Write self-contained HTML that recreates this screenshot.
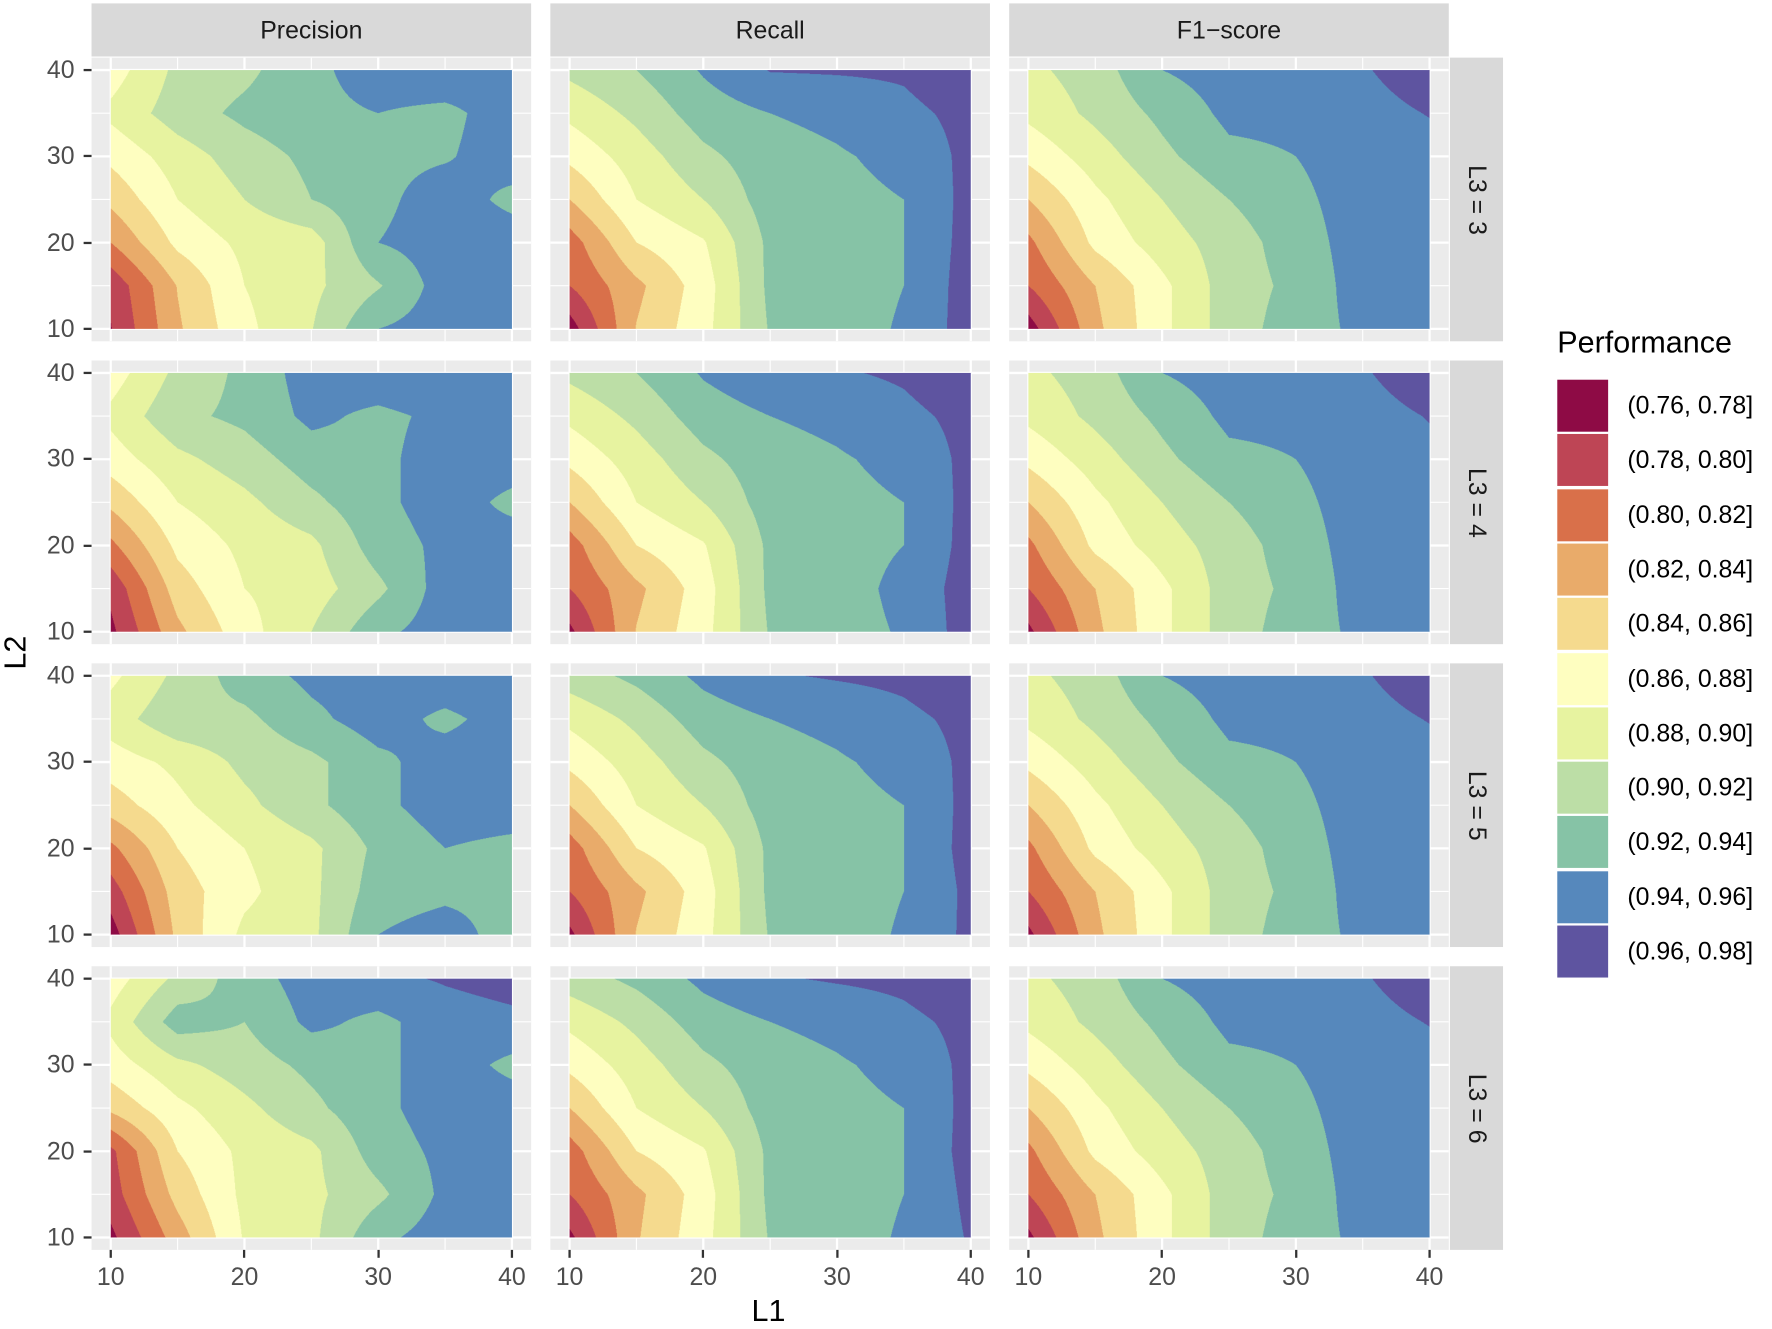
<!DOCTYPE html>
<html><head><meta charset="utf-8">
<style>
html,body{margin:0;padding:0;background:#fff;}
#wrap{position:relative;width:1568px;height:1176px;transform:scale(1.13010,1.13010);transform-origin:0 0;font-family:"Liberation Sans",sans-serif;}
.abs{position:absolute;}
.strip{position:absolute;background:#D9D9D9;color:#1A1A1A;font-size:22px;display:flex;align-items:center;justify-content:center;}
.panel{position:absolute;background:#EBEBEB;}
.tick{position:absolute;color:#4D4D4D;font-size:22px;}
canvas{position:absolute;}
</style></head>
<body>
<div id="wrap"></div>
<script>
const L1vals=[10,15,20,25,30,35,40];
const L2vals=[10,15,20,25,30,35,40];
const binColors=["#8E0B45","#BE4555","#D9704A","#E9AB6A","#F5DA8E","#FEFEC0","#E7F3A0","#BCDEA6","#86C3A6","#5688BC","#5E54A0"];
const binLabels=["(0.76, 0.78]","(0.78, 0.80]","(0.80, 0.82]","(0.82, 0.84]","(0.84, 0.86]","(0.86, 0.88]","(0.88, 0.90]","(0.90, 0.92]","(0.92, 0.94]","(0.94, 0.96]","(0.96, 0.98]"];
const metrics=["Precision","Recall","F1\u2212score"];
const l3Labels=["L3 = 3","L3 = 4","L3 = 5","L3 = 6"];
const xTicks=[10,20,30,40];
const yTicks=[10,20,30,40];
// rows: L2=10..40, cols: L1=10..40
const prec3=[[0.779,0.837,0.875,0.899,0.94,0.95,0.95],[0.785,0.841,0.88,0.895,0.918,0.95,0.95],[0.82,0.865,0.885,0.89,0.94,0.95,0.95],[0.845,0.88,0.90,0.92,0.935,0.95,0.935],[0.865,0.89,0.91,0.925,0.935,0.938,0.95],[0.885,0.91,0.925,0.935,0.94,0.935,0.95],[0.87,0.905,0.915,0.935,0.95,0.955,0.95]];
const prec4=[[0.775,0.835,0.872,0.90,0.935,0.95,0.95],[0.785,0.85,0.88,0.89,0.915,0.95,0.95],[0.815,0.865,0.885,0.895,0.93,0.945,0.95],[0.845,0.88,0.895,0.915,0.935,0.95,0.935],[0.87,0.895,0.91,0.93,0.935,0.95,0.95],[0.885,0.915,0.925,0.945,0.935,0.945,0.95],[0.87,0.905,0.925,0.95,0.955,0.96,0.95]];
const prec5=[[0.77,0.845,0.885,0.895,0.94,0.95,0.93],[0.79,0.85,0.875,0.895,0.93,0.935,0.935],[0.815,0.86,0.88,0.895,0.925,0.94,0.935],[0.85,0.875,0.895,0.915,0.935,0.95,0.95],[0.87,0.885,0.905,0.915,0.935,0.95,0.95],[0.89,0.915,0.915,0.935,0.95,0.935,0.95],[0.875,0.905,0.93,0.945,0.95,0.955,0.96]];
const prec6=[[0.775,0.83,0.882,0.895,0.935,0.95,0.95],[0.79,0.847,0.885,0.895,0.915,0.945,0.95],[0.795,0.86,0.885,0.895,0.93,0.945,0.95],[0.845,0.875,0.895,0.915,0.935,0.95,0.95],[0.87,0.895,0.91,0.925,0.935,0.95,0.935],[0.885,0.93,0.92,0.945,0.935,0.95,0.955],[0.87,0.905,0.93,0.95,0.955,0.962,0.968]];
const rec3=[[0.77,0.841,0.873,0.922,0.932,0.942,0.97],[0.80,0.835,0.87,0.925,0.932,0.94,0.97],[0.81,0.86,0.878,0.925,0.933,0.94,0.968],[0.84,0.88,0.90,0.93,0.935,0.94,0.967],[0.865,0.89,0.915,0.932,0.938,0.945,0.966],[0.885,0.905,0.93,0.94,0.945,0.955,0.966],[0.905,0.92,0.942,0.961,0.962,0.963,0.975]];
const rec4=[[0.775,0.841,0.873,0.922,0.932,0.942,0.97],[0.80,0.835,0.87,0.925,0.932,0.945,0.97],[0.81,0.86,0.878,0.925,0.933,0.94,0.968],[0.84,0.88,0.90,0.93,0.935,0.94,0.967],[0.865,0.89,0.915,0.932,0.938,0.945,0.966],[0.885,0.905,0.93,0.94,0.945,0.955,0.966],[0.905,0.92,0.942,0.955,0.958,0.963,0.975]];
const rec5=[[0.775,0.841,0.873,0.922,0.932,0.942,0.965],[0.80,0.835,0.87,0.925,0.932,0.94,0.965],[0.81,0.86,0.878,0.925,0.933,0.94,0.968],[0.84,0.88,0.90,0.93,0.935,0.94,0.967],[0.865,0.89,0.915,0.932,0.938,0.945,0.966],[0.885,0.905,0.93,0.94,0.945,0.955,0.966],[0.91,0.925,0.945,0.958,0.962,0.965,0.975]];
const rec6=[[0.775,0.838,0.873,0.922,0.932,0.942,0.962],[0.80,0.835,0.87,0.925,0.932,0.94,0.965],[0.81,0.86,0.878,0.925,0.933,0.94,0.968],[0.84,0.88,0.90,0.93,0.935,0.94,0.967],[0.865,0.89,0.915,0.932,0.938,0.945,0.966],[0.885,0.905,0.93,0.94,0.945,0.955,0.966],[0.91,0.925,0.945,0.958,0.962,0.965,0.975]];
const f13=[[0.77,0.835,0.875,0.91,0.93,0.945,0.95],[0.80,0.84,0.875,0.91,0.925,0.95,0.95],[0.815,0.865,0.89,0.91,0.93,0.95,0.95],[0.84,0.875,0.90,0.92,0.935,0.95,0.95],[0.865,0.89,0.915,0.935,0.94,0.95,0.952],[0.885,0.905,0.925,0.945,0.945,0.952,0.961],[0.895,0.91,0.94,0.95,0.952,0.958,0.972]];
const f14=[[0.775,0.835,0.875,0.91,0.93,0.945,0.95],[0.80,0.84,0.875,0.91,0.925,0.95,0.95],[0.815,0.865,0.89,0.91,0.93,0.95,0.95],[0.84,0.875,0.90,0.92,0.935,0.95,0.95],[0.865,0.89,0.915,0.935,0.94,0.95,0.955],[0.885,0.905,0.925,0.945,0.945,0.952,0.961],[0.895,0.91,0.94,0.95,0.952,0.958,0.972]];
const f15=[[0.775,0.835,0.875,0.91,0.93,0.945,0.95],[0.80,0.84,0.875,0.91,0.925,0.95,0.95],[0.815,0.865,0.89,0.91,0.93,0.95,0.95],[0.84,0.875,0.90,0.92,0.935,0.95,0.95],[0.865,0.89,0.915,0.935,0.94,0.95,0.952],[0.885,0.905,0.925,0.945,0.945,0.952,0.961],[0.895,0.91,0.94,0.95,0.952,0.958,0.972]];
const f16=[[0.775,0.835,0.875,0.91,0.93,0.945,0.95],[0.80,0.84,0.875,0.91,0.925,0.95,0.95],[0.815,0.865,0.89,0.91,0.93,0.95,0.95],[0.84,0.875,0.90,0.92,0.935,0.95,0.95],[0.865,0.89,0.915,0.935,0.94,0.95,0.952],[0.885,0.905,0.925,0.945,0.945,0.952,0.961],[0.895,0.91,0.94,0.95,0.952,0.958,0.972]];
const panelData=[[prec3,rec3,f13],[prec4,rec4,f14],[prec5,rec5,f15],[prec6,rec6,f16]];

const wrap=document.getElementById('wrap');
const PL=81,PT=51,PW=389,PH=251,DX=406,DY=268,XOFF=17,DW=355,YOFF=11,DH=229;
function xScale(c,v){return PL+c*DX+XOFF+(v-10)/30*DW;}
function yScale(r,v){return PT+r*DY+YOFF+DH-(v-10)/30*DH;}
function interp(g,a,b){
  let i=Math.min(5,Math.floor((a-10)/5)),j=Math.min(5,Math.floor((b-10)/5));
  let fx=(a-10)/5-i,fy=(b-10)/5-j;
  return g[j][i]*(1-fx)*(1-fy)+g[j][i+1]*fx*(1-fy)+g[j+1][i]*(1-fx)*fy+g[j+1][i+1]*fx*fy;
}
function hex(c){return [parseInt(c.slice(1,3),16),parseInt(c.slice(3,5),16),parseInt(c.slice(5,7),16)];}
const rgb=binColors.map(hex);
metrics.forEach((m,c)=>{
  const s=document.createElement('div');s.className='strip';
  s.style.cssText+=`left:${PL+c*DX}px;top:3px;width:${PW}px;height:47px;`;
  s.textContent=m;
  
  
  wrap.appendChild(s);
});
l3Labels.forEach((t,r)=>{
  const s=document.createElement('div');s.className='strip';
  s.style.cssText+=`left:1283px;top:${PT+r*DY}px;width:47px;height:${PH}px;`;
  s.innerHTML=`<span style="transform:rotate(90deg);white-space:nowrap;display:inline-block">${t}</span>`;
  
  
  wrap.appendChild(s);
});
for(let r=0;r<4;r++)for(let c=0;c<3;c++){
  const p=document.createElement('div');p.className='panel';
  p.style.cssText+=`left:${PL+c*DX}px;top:${PT+r*DY}px;width:${PW}px;height:${PH}px;`;
  
  
  let svg=`<svg width="${PW}" height="${PH}" style="position:absolute;left:0;top:0">`;
  [10,15,20,25,30,35,40].forEach(v=>{
    const w=(v%10===0)?2:1;
    const x=xScale(c,v)-PL-c*DX, y=yScale(r,v)-PT-r*DY;
    svg+=`<line x1="${x}" y1="0" x2="${x}" y2="${PH}" stroke="#fff" stroke-width="${w}"/>`;
    svg+=`<line x1="0" y1="${y}" x2="${PW}" y2="${y}" stroke="#fff" stroke-width="${w}"/>`;
  });
  p.innerHTML=svg+'</svg>';
  wrap.appendChild(p);
  const cv=document.createElement('canvas');
  const S=2;
  cv.width=DW*S;cv.height=DH*S;
  cv.style.cssText=`left:${xScale(c,10)}px;top:${yScale(r,40)}px;width:${DW}px;height:${DH}px;`;
  
  
  const ctx=cv.getContext('2d');const im=ctx.createImageData(cv.width,cv.height);
  const g=panelData[r][c];
  for(let py=0;py<cv.height;py++)for(let px=0;px<cv.width;px++){
    const a=10+(px+0.5)/cv.width*30,b=40-(py+0.5)/cv.height*30;
    const v=interp(g,a,b);
    let k=Math.floor((v-0.76)/0.02);k=Math.max(0,Math.min(10,k));
    const o=(py*cv.width+px)*4;im.data[o]=rgb[k][0];im.data[o+1]=rgb[k][1];im.data[o+2]=rgb[k][2];im.data[o+3]=255;
  }
  ctx.putImageData(im,0,0);
  wrap.appendChild(cv);
}
for(let r=0;r<4;r++)yTicks.forEach(v=>{
  const y=yScale(r,v);
  const t=document.createElement('div');t.className='tick';
  t.style.cssText+=`left:20px;width:46px;text-align:right;top:${y-13}px;`;t.textContent=v;
  
  
  wrap.appendChild(t);
  const m=document.createElement('div');m.className='abs';
  m.style.cssText=`left:74px;top:${y-1}px;width:7px;height:2px;background:#333;`;
  
  
  wrap.appendChild(m);
});
for(let c=0;c<3;c++)xTicks.forEach(v=>{
  const x=xScale(c,v);
  const t=document.createElement('div');t.className='tick';
  t.style.cssText+=`left:${x-30}px;width:60px;text-align:center;top:1117px;`;t.textContent=v;
  
  
  wrap.appendChild(t);
  const m=document.createElement('div');m.className='abs';
  m.style.cssText=`left:${x-1}px;top:1106px;width:2px;height:7px;background:#333;`;
  
  
  wrap.appendChild(m);
});
const xt=document.createElement('div');xt.className='abs';
xt.style.cssText='left:640px;width:80px;text-align:center;top:1145px;font-size:27px;color:#000;';xt.textContent='L1';


wrap.appendChild(xt);
const yt=document.createElement('div');yt.className='abs';
yt.style.cssText='left:-26px;width:80px;text-align:center;top:562px;font-size:27px;color:#000;transform:rotate(-90deg);';yt.textContent='L2';


wrap.appendChild(yt);
const lt=document.createElement('div');lt.className='abs';
lt.style.cssText='left:1378px;top:288px;font-size:27px;color:#000;';lt.textContent='Performance';


wrap.appendChild(lt);
binColors.forEach((col,k)=>{
  const y=336+k*48.3;
  const b=document.createElement('div');b.className='abs';
  b.style.cssText=`left:1378px;top:${y}px;width:45px;height:46px;background:${col};`;
  
  
  wrap.appendChild(b);
  const l=document.createElement('div');l.className='abs';
  l.style.cssText=`left:1440px;top:${y+10}px;font-size:22px;color:#000;white-space:nowrap;`;l.textContent=binLabels[k];
  
  
  wrap.appendChild(l);
});
</script>
</body></html>
